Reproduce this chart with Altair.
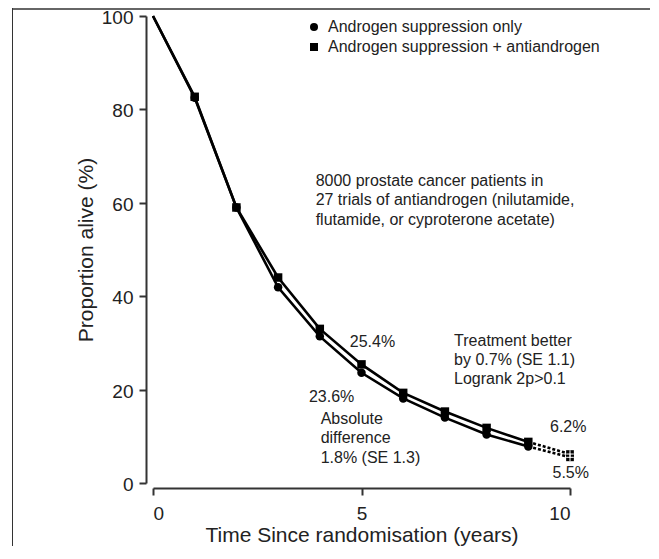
import altair as alt
import pandas as pd

# ---- data ----
years = [0, 1, 2, 3, 4, 5, 6, 7, 8, 9, 10]
control = [100, 82.5, 59.0, 41.9, 31.4, 23.6, 18.1, 14.0, 10.4, 7.8, 5.5]
treatment = [100, 82.7, 59.0, 44.0, 33.0, 25.4, 19.3, 15.3, 11.8, 8.8, 6.2]
series_names = ["Androgen suppression only", "Androgen suppression + antiandrogen"]
x_ticks = [0, 5, 10]
y_ticks = [0, 20, 40, 60, 80, 100]

ann_x = [3.9, 4.72, 3.74, 4.02, 7.22, 9.52, 9.58]
ann_y = [63.6, 29.2, 17.4, 12.6, 29.4, 11.0, 1.1]
ann_text = [
    ["8000 prostate cancer patients in",
     "27 trials of antiandrogen (nilutamide,",
     "flutamide, or cyproterone acetate)"],
    ["25.4%"],
    ["23.6%"],
    ["Absolute", "difference", "1.8% (SE 1.3)"],
    ["Treatment better", "by 0.7% (SE 1.1)", "Logrank 2p>0.1"],
    ["6.2%"],
    ["5.5%"],
]

FONT = "Liberation Sans"
TXT = "#222222"

rows = []
for name, vals in zip(series_names, [control, treatment]):
    for yr, v in zip(years, vals):
        rows.append({"year": yr, "pct": v, "group": name})
df = pd.DataFrame(rows)

solid = df[df.year <= 9]
dashed = df[df.year >= 9]
pts = df[(df.year >= 1) & (df.year <= 9)]
end = df[df.year == 10]

ann = pd.DataFrame({"x": ann_x, "y": ann_y, "text": ann_text})

x_enc = alt.X(
    "year:Q",
    scale=alt.Scale(domain=[0, 10], nice=False, zero=False),
    axis=alt.Axis(values=x_ticks, title="Time Since randomisation (years)",
                  offset=5, labelPadding=9, titlePadding=1, format="d"),
)
y_enc = alt.Y(
    "pct:Q",
    scale=alt.Scale(domain=[0, 100], nice=False),
    axis=alt.Axis(values=y_ticks, title="Proportion alive (%)",
                  offset=7, labelPadding=6, titlePadding=5, format="d",
                  labelOffset=1.5),
)

lines = alt.Chart(solid).mark_line(color="black", strokeWidth=2.6).encode(
    x=x_enc, y=y_enc, detail="group:N"
)
dash = alt.Chart(dashed).mark_line(color="black", strokeWidth=2.6, strokeDash=[3, 2]).encode(
    x=x_enc, y=y_enc, detail="group:N"
)
points = alt.Chart(pts).mark_point(filled=True, color="black", size=72, opacity=1).encode(
    x=x_enc,
    y=y_enc,
    shape=alt.Shape(
        "group:N",
        scale=alt.Scale(domain=series_names, range=["circle", "square"]),
        legend=alt.Legend(
            title=None, orient="none", legendX=153, legendY=3,
            labelFontSize=16, labelFont=FONT, labelColor=TXT,
            symbolSize=64, symbolFillColor="black", symbolStrokeWidth=0,
            rowPadding=4, labelOffset=6, padding=0, labelLimit=400,
        ),
    ),
)
end_sq = alt.Chart(end).mark_point(filled=True, shape="square", color="black", size=60, opacity=1).encode(
    x=x_enc, y=y_enc
)
end_cross = alt.Chart(end).mark_point(
    shape="M-1,0H1M0,-1V1", filled=False, color="white", strokeWidth=1, size=60, opacity=1
).encode(x=x_enc, y=y_enc)

texts = alt.Chart(ann).mark_text(
    align="left", baseline="alphabetic", fontSize=16, font=FONT, color=TXT, lineHeight=19.3
).encode(x="x:Q", y="y:Q", text="text")

frame_df = pd.DataFrame({"k": [0]})
frame_top = alt.Chart(frame_df).mark_rule(color="#666666", strokeWidth=2).encode(
    x=alt.value(-141), x2=alt.value(504), y=alt.value(-7)
)
frame_left = alt.Chart(frame_df).mark_rule(color="#333333", strokeWidth=1).encode(
    x=alt.value(-140.5), y=alt.value(-8), y2=alt.value(560)
)

chart = alt.layer(
    frame_top, frame_left, lines, dash, points, end_sq, end_cross, texts
).properties(
    width=417, height=467,
    autosize=alt.AutoSizeParams(type="none"),
    padding={"left": 145, "top": 8, "right": 80, "bottom": 63},
).configure_view(stroke=None).configure_axis(
    grid=False, domainColor="#333333", domainWidth=2, tickColor="#333333",
    tickWidth=2, tickSize=7, labelFont=FONT, labelFontSize=19, labelColor=TXT,
    titleFont=FONT, titleFontSize=21, titleFontWeight="normal", titleColor=TXT,
)

chart.save("out.html", embed_options={"renderer": "svg", "actions": False})
